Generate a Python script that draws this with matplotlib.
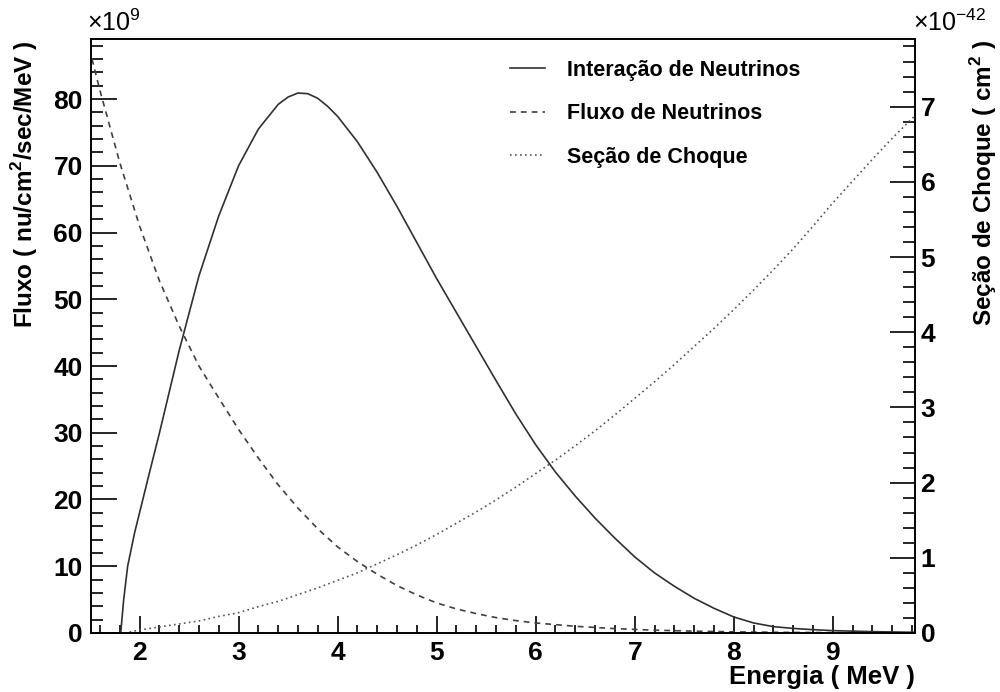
import matplotlib.pyplot as plt

plt.rcParams['font.family'] = ['Liberation Sans', 'DejaVu Sans']
plt.rcParams['mathtext.fontset'] = 'custom'
plt.rcParams['mathtext.rm'] = 'Liberation Sans'
plt.rcParams['mathtext.bf'] = 'Liberation Sans:bold'

# Fluxo de neutrinos (x10^9 nu/cm2/sec/MeV)
energia_fluxo = [1.52, 1.6, 1.8, 2.0, 2.2, 2.4, 2.6, 2.8, 3.0, 3.2, 3.4, 3.6, 3.8, 4.0,
                 4.2, 4.4, 4.6, 4.8, 5.0, 5.2, 5.4, 5.6, 5.8, 6.0, 6.4, 6.8, 7.2, 7.6,
                 8.0, 8.5, 9.0, 9.5, 9.83]
fluxo = [86.0, 81.3, 70.5, 61.0, 52.8, 46.0, 40.0, 35.2, 30.5, 26.2, 22.2, 18.7, 15.6, 12.9,
         10.7, 8.8, 7.1, 5.7, 4.5, 3.6, 2.9, 2.3, 1.85, 1.5, 1.0, 0.65, 0.42, 0.27,
         0.17, 0.09, 0.05, 0.02, 0.01]

# Interacao de neutrinos (mesma escala do fluxo)
energia_inter = [1.81, 1.84, 1.88, 1.95, 2.0, 2.1, 2.2, 2.4, 2.6, 2.8, 3.0, 3.2, 3.4, 3.5,
                 3.6, 3.7, 3.8, 3.9, 4.0, 4.2, 4.4, 4.6, 4.8, 5.0, 5.2, 5.4, 5.6, 5.8,
                 6.0, 6.2, 6.4, 6.6, 6.8, 7.0, 7.2, 7.4, 7.6, 7.8, 8.0, 8.2, 8.4, 8.6,
                 8.8, 9.0, 9.4, 9.83]
interacao = [0.0, 5.0, 10.0, 15.0, 18.0, 24.0, 29.9, 42.3, 53.5, 62.5, 70.0, 75.5, 79.2, 80.3,
             80.9, 80.8, 80.1, 78.9, 77.4, 73.6, 69.0, 63.9, 58.5, 53.1, 48.0, 42.9, 37.8,
             32.8, 28.2, 24.1, 20.5, 17.2, 14.2, 11.4, 9.0, 7.0, 5.2, 3.7, 2.4, 1.5, 0.95,
             0.68, 0.5, 0.35, 0.2, 0.1]

# Secao de choque (x10^-42 cm2)
energia_secao = [1.85, 2.0, 2.2, 2.4, 2.6, 2.8, 3.0, 3.2, 3.4, 3.6, 3.8, 4.0, 4.2, 4.4,
                 4.6, 4.8, 5.0, 5.2, 5.4, 5.6, 5.8, 6.0, 6.2, 6.4, 6.6, 6.8, 7.0, 7.2,
                 7.4, 7.6, 7.8, 8.0, 8.2, 8.4, 8.6, 8.8, 9.0, 9.2, 9.4, 9.6, 9.83]
secao = [0.0, 0.04, 0.08, 0.12, 0.16, 0.22, 0.27, 0.35, 0.42, 0.51, 0.60, 0.70, 0.80, 0.92,
         1.04, 1.17, 1.31, 1.46, 1.61, 1.77, 1.94, 2.12, 2.30, 2.49, 2.69, 2.90, 3.12, 3.34,
         3.57, 3.81, 4.05, 4.30, 4.56, 4.83, 5.11, 5.41, 5.72, 6.01, 6.30, 6.58, 6.88]

fig = plt.figure(figsize=(10, 6.92), dpi=100)
ax = fig.add_axes([0.091, 0.0853, 0.824, 0.8584])
ax2 = ax.twinx()

l1, = ax.plot(energia_inter, interacao, color='#303030', lw=1.2, label='Interação de Neutrinos')
l2, = ax.plot(energia_fluxo, fluxo, color='#404040', lw=1.2, linestyle=(0, (3.5, 3)),
              label='Fluxo de Neutrinos')
l3, = ax2.plot(energia_secao, secao, color='#555555', lw=1.2, linestyle=(0, (1, 2)),
               label='Seção de Choque')

ax.set_xlim(1.51, 9.83)
ax.set_ylim(0, 89)
ax2.set_ylim(0, 7.9)

ax.set_xticks(range(2, 10))
ax.set_xticks([x / 10 for x in range(16, 99, 2)], minor=True)
ax.set_yticks(range(0, 90, 10))
ax.set_yticks(range(0, 90, 2), minor=True)
ax2.set_yticks(range(0, 8))
ax2.set_yticks([y / 10 for y in range(0, 79, 2)], minor=True)

for a in (ax, ax2):
    for s in a.spines.values():
        s.set_linewidth(1.2)
    a.tick_params(which='both', direction='in', width=1.2, labelsize=19)
ax.tick_params(axis='x', which='major', length=12, pad=6)
ax.tick_params(axis='x', which='minor', length=6)
ax.tick_params(axis='y', which='major', length=19, pad=6, right=False)
ax.tick_params(axis='y', which='minor', length=8.5, right=False)
ax2.tick_params(axis='y', which='major', length=18, pad=4)
ax2.tick_params(axis='y', which='minor', length=9)
for lab in ax.get_xticklabels() + ax.get_yticklabels() + ax2.get_yticklabels():
    lab.set_fontweight('bold')

fig.text(0.025, 0.942, r'Fluxo ( nu/cm$^{\mathbf{2}}$/sec/MeV )', rotation=90,
         ha='center', va='top', fontsize=17.5, fontweight='bold')
fig.text(0.984, 0.942, r'Seção de Choque ( cm$^{\mathbf{2}}$ )', rotation=90,
         ha='center', va='top', fontsize=17.5, fontweight='bold')
fig.text(0.915, 0.022, 'Energia ( MeV )', ha='right', va='center',
         fontsize=18.5, fontweight='bold')
fig.text(0.087, 0.955, r'$\times$10$^{9}$', ha='left', va='baseline', fontsize=18)
fig.text(0.913, 0.955, r'$\times$10$^{-42}$', ha='left', va='baseline', fontsize=18)

leg = ax.legend(handles=[l1, l2, l3], loc='upper left', bbox_to_anchor=(0.485, 0.998),
                frameon=False, fontsize=15.5, handlelength=1.63, handletextpad=1.0,
                labelspacing=1.05)
for t in leg.get_texts():
    t.set_fontweight('bold')

fig.savefig('out.png', dpi=100)
